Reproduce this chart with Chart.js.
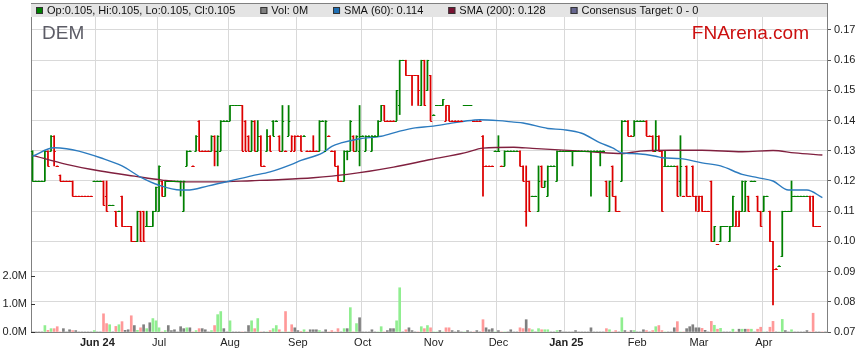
<!DOCTYPE html>
<html>
<head>
<meta charset="utf-8">
<title>DEM</title>
<script src="https://cdn.jsdelivr.net/npm/chart.js@4.4.1/dist/chart.umd.min.js"></script>
<style>
  body { margin: 0; background: #fff; }
  canvas { display: block; }
</style>
</head>
<body>
<canvas id="chart" width="859" height="363"></canvas>
<script>
// one bar per weekday, starting here
const firstBarDate = '2024-05-03';
const barCount = 258;

const monthLabels = {
    '2024-06': 'Jun 24', '2024-07': 'Jul', '2024-08': 'Aug', '2024-09': 'Sep',
    '2024-10': 'Oct', '2024-11': 'Nov', '2024-12': 'Dec', '2025-01': 'Jan 25',
    '2025-02': 'Feb', '2025-03': 'Mar', '2025-04': 'Apr'
};
const yearLabels = ['Jun 24', 'Jan 25'];

const priceTicks = [0.07, 0.08, 0.09, 0.10, 0.11, 0.12, 0.13, 0.14, 0.15, 0.16, 0.17];
const volumeTicks = [0, 1, 2];

const opens = [
    .13,.12,.12,.12,.12,.13,.13,.135,.125,.122,
    .12,.12,.12,.12,.115,.115,.115,.115,.115,.115,
    .12,.12,.12,.12,.115,.112,.112,.11,.11,.115,
    .105,.105,.105,.10,.10,.11,.11,.105,.105,.105,
    .11,.11,.12,.115,.12,.12,.12,.12,.12,.11,
    .125,.13,.125,.13,.14,.13,.13,.13,.13,.135,
    .13,.13,.14,.14,.14,.145,.145,.145,.145,.14,
    .135,.13,.14,.13,.135,.125,.13,.135,.14,.14,
    .135,.13,.13,.135,.13,.13,.135,.135,.135,.13,
    .13,.13,.13,.13,.14,.13,.135,.13,.13,.125,
    .12,.12,.13,.13,.135,.13,.13,.135,.13,.135,
    .13,.135,.135,.14,.145,.14,.14,.14,.14,.145,
    .16,.16,.155,.155,.155,.155,.145,.16,.15,.155,
    .142,.145,.145,.145,.14,.145,.14,.14,.14,.14,
    .145,.145,.145,.14,.14,.14,.135,.125,.125,.125,
    .13,.13,.125,.125,.13,.13,.13,.13,.13,.125,
    .11,.12,.115,.115,.11,.125,.118,.115,.125,.125,
    .12,.13,.13,.13,.13,.13,.13,.13,.13,.13,
    .13,.13,.13,.13,.13,.13,.12,.11,.125,.115,
    .11,.12,.14,.14,.135,.135,.14,.14,.14,.14,
    .135,.135,.13,.135,.13,.125,.125,.125,.125,.125,
    .12,.115,.125,.115,.125,.115,.11,.115,.11,.11,
    .12,.10,.099,.10,.105,.105,.10,.105,.105,.105,
    .11,.11,.115,.12,.12,.115,.11,.11,.115,.11,
    .10,.091,.092,.095,.11,.11,.11,.115,.115,.115,
    .115,.115,.115,.115,.105,.105,null,null
];
const highs = [
    .13,.12,.12,.12,.13,.13,.135,.135,.125,.122,
    .12,.12,.12,.12,.115,.115,.115,.115,.115,.115,
    .12,.12,.12,.12,.12,.112,.112,.11,.11,.115,
    .105,.105,.105,.10,.11,.11,.11,.11,.105,.11,
    .118,.125,.12,.12,.12,.12,.12,.12,.12,.12,
    .13,.13,.125,.135,.14,.13,.13,.13,.135,.135,
    .135,.14,.14,.14,.145,.145,.145,.145,.145,.14,
    .135,.14,.14,.14,.135,.125,.137,.135,.14,.14,
    .135,.145,.13,.145,.135,.135,.135,.135,.135,.13,
    .13,.135,.13,.14,.14,.14,.135,.13,.13,.125,
    .12,.13,.13,.14,.135,.135,.145,.135,.135,.135,
    .135,.135,.14,.145,.145,.14,.14,.14,.15,.16,
    .16,.16,.155,.155,.155,.155,.16,.16,.16,.155,
    .142,.145,.145,.147,.145,.145,.14,.14,.14,.14,
    .145,.145,.145,.14,.14,.14,.135,.125,.125,.125,
    .13,.135,.125,.13,.13,.13,.13,.13,.13,.125,
    .125,.12,.115,.115,.125,.125,.12,.125,.125,.125,
    .13,.13,.13,.13,.13,.13,.13,.13,.13,.13,
    .13,.13,.13,.13,.13,.13,.12,.12,.125,.115,
    .11,.14,.14,.14,.135,.14,.14,.14,.14,.14,
    .135,.135,.14,.135,.13,.13,.125,.125,.125,.125,
    .135,.115,.125,.115,.125,.115,.115,.115,.11,.11,
    .12,.105,.099,.105,.105,.105,.105,.115,.11,.11,
    .12,.12,.115,.12,.12,.115,.11,.115,.115,.11,
    .10,.091,.092,.11,.11,.11,.12,.115,.115,.115,
    .115,.115,.115,.115,.105,.105,null,null
];
const lows = [
    .12,.12,.12,.12,.12,.125,.13,.125,.125,.12,
    .12,.12,.12,.115,.115,.115,.115,.115,.115,.115,
    .12,.12,.12,.112,.11,.112,.112,.105,.11,.105,
    .105,.105,.10,.10,.10,.10,.10,.105,.105,.105,
    .11,.11,.115,.115,.12,.12,.12,.12,.115,.11,
    .125,.13,.125,.13,.13,.13,.13,.13,.13,.125,
    .125,.13,.14,.14,.14,.145,.145,.145,.13,.13,
    .13,.13,.13,.13,.125,.125,.13,.13,.135,.14,
    .13,.13,.13,.135,.13,.13,.135,.13,.135,.13,
    .13,.13,.13,.13,.14,.13,.135,.13,.125,.12,
    .12,.12,.127,.13,.13,.13,.125,.135,.13,.135,
    .13,.135,.135,.14,.14,.14,.14,.14,.14,.142,
    .16,.155,.155,.145,.155,.145,.145,.145,.15,.14,
    .142,.145,.145,.145,.14,.14,.14,.14,.14,.14,
    .145,.145,.145,.14,.14,.14,.115,.125,.125,.125,
    .13,.13,.125,.125,.13,.13,.13,.13,.125,.12,
    .105,.11,.115,.115,.11,.118,.118,.115,.125,.125,
    .12,.13,.13,.13,.13,.125,.13,.13,.13,.13,
    .13,.115,.13,.13,.125,.13,.115,.11,.115,.11,
    .11,.12,.14,.135,.135,.135,.14,.14,.14,.135,
    .135,.13,.13,.13,.11,.125,.125,.125,.125,.115,
    .115,.115,.115,.115,.115,.11,.11,.11,.11,.11,
    .10,.10,.099,.10,.105,.105,.10,.105,.105,.105,
    .11,.11,.11,.12,.12,.11,.105,.11,.115,.10,
    .079,.091,.092,.095,.11,.11,.11,.115,.115,.115,
    .115,.115,.11,.105,.105,.105,null,null
];
const closes = [
    .12,.12,.12,.12,.13,.125,.135,.13,.125,.12,
    .12,.12,.12,.115,.115,.115,.115,.115,.115,.115,
    .12,.12,.12,.112,.11,.112,.112,.105,.11,.105,
    .105,.105,.10,.10,.11,.10,.10,.105,.105,.11,
    .118,.125,.115,.12,.12,.12,.12,.12,.12,.12,
    .13,.13,.125,.135,.13,.13,.13,.13,.135,.13,
    .135,.14,.14,.14,.145,.145,.145,.145,.13,.13,
    .13,.14,.13,.135,.125,.125,.135,.13,.135,.14,
    .13,.14,.13,.14,.135,.135,.135,.13,.135,.13,
    .13,.13,.13,.14,.14,.14,.135,.13,.125,.12,
    .12,.13,.13,.14,.13,.135,.135,.135,.135,.135,
    .135,.135,.14,.145,.14,.14,.14,.14,.15,.16,
    .16,.155,.155,.155,.155,.15,.16,.145,.16,.14,
    .142,.145,.145,.147,.145,.14,.14,.14,.14,.14,
    .145,.145,.145,.14,.14,.14,.125,.125,.125,.125,
    .13,.13,.125,.13,.13,.13,.13,.13,.125,.12,
    .12,.11,.115,.115,.12,.118,.12,.125,.125,.125,
    .13,.13,.13,.13,.13,.13,.13,.13,.13,.13,
    .13,.13,.13,.13,.13,.13,.115,.12,.115,.11,
    .11,.14,.14,.135,.135,.14,.14,.14,.14,.135,
    .135,.13,.135,.13,.11,.125,.125,.125,.125,.115,
    .125,.115,.115,.115,.115,.115,.115,.11,.11,.11,
    .10,.105,.099,.105,.105,.105,.105,.115,.11,.11,
    .12,.12,.11,.12,.12,.11,.105,.115,.115,.10,
    .091,.091,.092,.11,.11,.11,.115,.115,.115,.115,
    .115,.115,.11,.105,.105,.105,null,null
];
// volume in millions of shares
const volumes = [
    0,0,0,0,.23,.06,.12,.12,.19,0,
    .12,0,.08,.05,.05,0,0,0,0,0,
    .05,0,0,.65,.3,.26,0,.2,.26,.37,
    .06,.08,.58,.23,.06,.15,.26,.12,.33,.48,
    .4,.15,0,.05,.23,.05,.08,0,.19,.12,
    .15,.15,0,.05,.12,.12,.08,0,.05,.23,
    .62,.73,.12,0,.4,0,0,0,0,0,
    .23,.4,.12,.48,0,0,0,.05,.12,.23,
    .08,0,.73,0,.26,.15,.05,.02,.08,0,
    .08,.08,.08,.05,0,.08,0,.05,0,.12,
    0,.12,.12,.87,0,.3,.51,0,0,0,
    .08,0,0,.19,0,.05,.12,.12,.4,1.58,
    0,.08,.15,.05,0,0,.19,.12,.23,.15,
    0,0,.05,0,.15,.15,.05,0,.05,0,
    0,.05,0,0,.05,0,.44,.15,.08,.12,
    0,.05,0,0,0,.08,0,0,.15,.12,
    .44,.12,.08,0,.12,.08,.08,.08,0,0,
    .05,.06,0,0,0,0,.05,0,0,0,
    0,.15,0,0,0,0,.12,.08,0,.05,
    0,.51,.05,0,.05,.05,0,0,.08,.05,
    0,.05,.19,.23,.05,0,0,0,.15,.37,
    0,0,.12,.19,.26,.15,.15,.13,.06,0,
    .38,.24,.1,.13,0,0,0,.1,0,.1,
    .1,.1,.1,.1,0,.1,.17,0,0,.17,
    .38,0,0,.45,.05,0,.08,0,0,0,
    0,.05,0,.67,0,0,0,0
];

// moving averages at these bars
const sma60Bars = [0,7,11,15,22,29,35,41,48,50,57,64,71,77,84,87,94,97,100,106,113,119,124,129,135,140,145,151,156,159,167,172,178,184,188,191,196,202,204,210,217,223,230,235,240,245,251,256];
const sma60 = [.1282,.131,.1307,.1299,.1277,.125,.1213,.1186,.117,.117,.1184,.12,.1217,.123,.1255,.1268,.1293,.1315,.1326,.134,.1348,.1365,.1376,.1381,.139,.1398,.1403,.14,.1395,.1392,.1374,.137,.1358,.1326,.131,.1293,.129,.1282,.1277,.1274,.126,.125,.1222,.1211,.12,.117,.117,.1145];
const sma200Bars = [0,11,22,33,42,49,60,71,81,91,102,117,129,140,146,156,162,178,182,191,197,207,217,230,240,247,256];
const sma200 = [.1285,.1255,.1233,.1216,.1203,.1197,.1197,.1201,.1205,.1211,.1222,.1246,.1271,.1293,.1309,.1312,.1308,.1299,.1296,.1291,.1299,.1302,.1302,.1297,.1301,.1293,.1286];

const legendItems = [
    ['Op:0.105, Hi:0.105, Lo:0.105, Cl:0.105', '#008000'],
    ['Vol: 0M', '#808080'],
    ['SMA (60): 0.114', '#1f6fb4'],
    ['SMA (200): 0.128', '#7a1232'],
    ['Consensus Target: 0 - 0', '#66668f']
];

const FONT = '"Liberation Sans", Arial, sans-serif';
const GRID = '#d9d9d9';
const UP = '#008000';
const DOWN = '#dd0000';

// categories: weekdays
const dates = [];
for (let d = new Date(firstBarDate + 'T00:00:00Z'); dates.length < barCount; d.setUTCDate(d.getUTCDate() + 1)) {
    const wd = d.getUTCDay();
    if (wd !== 0 && wd !== 6) dates.push(d.toISOString().slice(0, 10));
}
const tickText = {};
dates.forEach((d, i) => {
    const m = d.slice(0, 7);
    if (i > 0 && dates[i - 1].slice(0, 7) !== m && monthLabels[m]) tickText[i] = monthLabels[m];
});

// bar colour follows the close against the previous close
const barColors = [];
const volColors = [];
let lastColor = UP;
closes.forEach((c, i) => {
    const prev = i > 0 && closes[i - 1] != null ? closes[i - 1] : c;
    if (c != null && c > prev) lastColor = UP;
    if (c != null && c < prev) lastColor = DOWN;
    barColors.push(lastColor);
    volColors.push(c > prev ? '#90ee90' : c < prev ? '#ff9999' : '#808080');
});

function sparse(bars, values) {
    const out = new Array(barCount).fill(null);
    bars.forEach((b, k) => { out[b] = values[k]; });
    return out;
}

const ohlcTicks = {
    id: 'ohlcTicks',
    afterDatasetsDraw(chart) {
        const { ctx, scales: { x, y } } = chart;
        ctx.save();
        ctx.lineWidth = 1.2;
        opens.forEach((o, i) => {
            if (o == null) return;
            const px = x.getPixelForValue(i);
            const yo = Math.round(y.getPixelForValue(o)) + 0.5;
            const yc = Math.round(y.getPixelForValue(closes[i])) + 0.5;
            ctx.strokeStyle = barColors[i];
            ctx.beginPath();
            ctx.moveTo(px - 1.7, yo);
            ctx.lineTo(px + 0.3, yo);
            ctx.moveTo(px - 0.3, yc);
            ctx.lineTo(px + 1.7, yc);
            ctx.stroke();
        });
        ctx.restore();
    }
};

const frame = {
    id: 'frame',
    afterDraw(chart) {
        const { ctx, chartArea: a, scales } = chart;
        ctx.save();
        ctx.fillStyle = '#e4e4e4';
        ctx.fillRect(a.left, a.top, a.right - a.left, 14);
        ctx.strokeStyle = '#808080';
        ctx.lineWidth = 1;
        ctx.beginPath();
        ctx.moveTo(a.left, a.top + 0.5);
        ctx.lineTo(a.right, a.top + 0.5);
        ctx.stroke();

        // short inner ticks on the volume axis
        ctx.strokeStyle = '#333';
        ctx.beginPath();
        volumeTicks.forEach(v => {
            const yy = Math.round(scales.yv.getPixelForValue(v)) + 0.5;
            ctx.moveTo(a.left, yy);
            ctx.lineTo(a.left + 4, yy);
        });
        ctx.stroke();

        ctx.font = '11px ' + FONT;
        ctx.textBaseline = 'middle';
        let lx = a.left + 5;
        legendItems.forEach(([text, color]) => {
            ctx.fillStyle = color;
            ctx.fillRect(lx, a.top + 4, 7, 7);
            ctx.strokeStyle = '#333';
            ctx.strokeRect(lx + 0.5, a.top + 4.5, 6, 6);
            ctx.fillStyle = '#111';
            ctx.fillText(text, lx + 11, a.top + 8);
            lx += 11 + ctx.measureText(text).width + 25;
        });

        ctx.font = '19px ' + FONT;
        ctx.textBaseline = 'alphabetic';
        ctx.fillStyle = '#5c5c66';
        ctx.fillText('DEM', a.left + 11, 39);
        ctx.fillStyle = '#cc1010';
        ctx.textAlign = 'right';
        ctx.fillText('FNArena.com', a.right - 18, 39);
        ctx.restore();
    }
};

Chart.defaults.font.family = FONT;
Chart.defaults.color = '#222';

new Chart(document.getElementById('chart'), {
    type: 'bar',
    data: {
        labels: dates,
        datasets: [{
            type: 'line',
            label: 'SMA (60)',
            data: sparse(sma60Bars, sma60),
            yAxisID: 'y',
            borderColor: '#2c7bbf',
            borderWidth: 1.4,
            pointRadius: 0,
            spanGaps: true,
            cubicInterpolationMode: 'monotone',
            order: 0
        }, {
            type: 'line',
            label: 'SMA (200)',
            data: sparse(sma200Bars, sma200),
            yAxisID: 'y',
            borderColor: '#80203f',
            borderWidth: 1.4,
            pointRadius: 0,
            spanGaps: true,
            cubicInterpolationMode: 'monotone',
            order: 1
        }, {
            label: 'Price',
            data: lows.map((l, i) => l == null ? null : [l, highs[i]]),
            yAxisID: 'y',
            backgroundColor: barColors,
            barThickness: 1.1,
            grouped: false,
            order: 2
        }, {
            label: 'Vol',
            data: volumes,
            yAxisID: 'yv',
            backgroundColor: volColors,
            barThickness: 2,
            grouped: false,
            order: 3
        }]
    },
    options: {
        responsive: false,
        animation: false,
        layout: { padding: { top: 3, left: 0, right: 0, bottom: 0 } },
        plugins: {
            legend: { display: false },
            tooltip: { enabled: false }
        },
        scales: {
            x: {
                offset: true,
                grid: {
                    offset: true,
                    drawTicks: false,
                    color: c => tickText[c.index] ? GRID : 'rgba(0,0,0,0)'
                },
                border: { color: '#808080' },
                ticks: {
                    autoSkip: false,
                    maxRotation: 0,
                    padding: 4,
                    font: c => ({ family: FONT, size: 11,
                        weight: yearLabels.includes(tickText[c.index]) ? 'bold' : 'normal' }),
                    callback: (v, i) => tickText[i] || ''
                },
                afterFit: s => { s.height = 31; s.paddingLeft = 0; s.paddingRight = 0; }
            },
            y: {
                position: 'right',
                min: 0.07,
                max: 0.17894,
                afterBuildTicks: s => { s.ticks = priceTicks.map(v => ({ value: v })); },
                grid: { color: GRID, tickColor: '#555', tickLength: 4 },
                border: { color: '#808080' },
                ticks: {
                    padding: 3,
                    font: { size: 11 },
                    callback: v => v.toFixed(2)
                },
                afterFit: s => { s.width = 32; s.paddingTop = 0; s.paddingBottom = 0; }
            },
            yv: {
                position: 'left',
                min: 0,
                max: 11.75,
                afterBuildTicks: s => { s.ticks = volumeTicks.map(v => ({ value: v })); },
                grid: { drawOnChartArea: false, drawTicks: false },
                border: { color: '#808080' },
                ticks: {
                    padding: 4,
                    font: { size: 11 },
                    callback: v => v.toFixed(1) + 'M'
                },
                afterFit: s => { s.width = 31; s.paddingTop = 0; s.paddingBottom = 0; }
            }
        }
    },
    plugins: [ohlcTicks, frame]
});
</script>
</body>
</html>
